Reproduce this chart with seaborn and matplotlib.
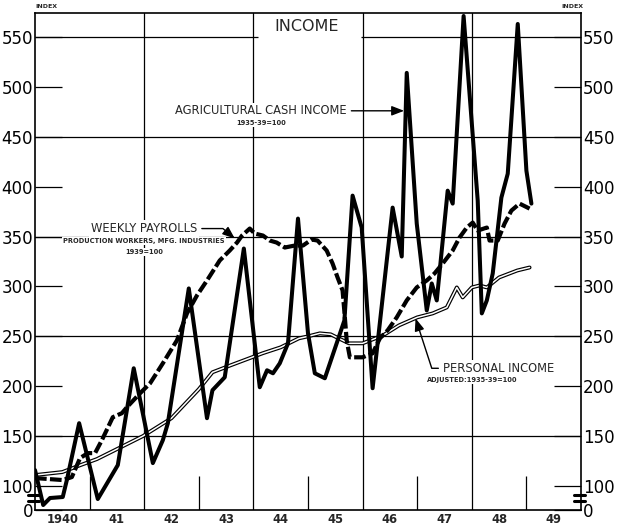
import numpy as np
import pandas as pd
import matplotlib
matplotlib.use("Agg")
import matplotlib.pyplot as plt
import seaborn as sns
from matplotlib import font_manager as fm

# ---------------- data (months since Jan 1940, index values) ----------------
ag_months = [0, 1.8, 3.3, 6.1, 7.0, 9.7, 13.8, 18.2, 21.7, 25.9, 28.1, 29.2, 33.8, 37.8, 39.0,
             41.7, 45.9, 49.4, 51.0, 52.3, 53.8, 55.6, 57.8, 60.0, 61.5, 63.7, 66.3, 68.0, 69.8,
             71.8, 74.2, 78.6, 80.6, 81.7, 83.9, 86.1, 87.2, 88.3, 90.7, 91.8, 94.2, 97.3, 98.2,
             99.3, 100.6, 102.5, 103.9, 106.1, 108.0, 109.1]
ag_values = [116, 81, 88, 89, 106, 163, 87, 121, 218, 123, 146, 163, 298, 168, 196,
             209, 338, 199, 216, 213, 223, 243, 368, 253, 213, 208, 243, 266, 391,
             359, 198, 379, 330, 514, 363, 276, 303, 286, 396, 383, 571, 386, 273,
             286, 313, 389, 413, 563, 416, 383]

payroll_months = [0, 6.1, 8.1, 9.9, 11.6, 13.2, 14.7, 17.1, 19.1, 20.2, 23.1, 25.3, 28.1, 31.2,
                  33.4, 35.6, 37.8, 40.6, 42.8, 44.4, 45.5, 47.2, 48.3, 50.1, 51.6, 53.1, 54.9,
                  57.1, 58.9, 60.8, 62.1, 64.1, 65.4, 66.5, 67.6, 68.1, 68.5, 69.2, 72.0, 74.2,
                  75.8, 77.5, 79.5, 81.7, 83.9, 86.1, 87.8, 89.6, 91.8, 93.3, 94.9, 96.2, 97.3,
                  99.3, 99.9, 101.7, 103.2, 104.7, 106.5, 108.7]
payroll_values = [108, 106, 109, 128, 133, 133, 146, 169, 173, 179, 193, 203, 223, 246,
                  273, 291, 306, 326, 336, 344, 351, 358, 353, 351, 346, 344, 339,
                  341, 341, 347, 346, 336, 323, 309, 296, 269, 246, 229, 229, 233,
                  248, 256, 269, 286, 299, 306, 313, 323, 336, 349, 359, 364, 356,
                  359, 346, 346, 363, 376, 383, 378]

personal_months = [0, 6, 10, 13.6, 18, 23.7, 30, 36, 39, 43, 46.5, 50, 54, 58, 60, 62.6, 65,
                   66.3, 69, 72, 76.5, 80, 84, 87.4, 90.5, 92.7, 94, 96, 97.7, 99.3, 102, 106,
                   108.7]
personal_values = [111, 114, 121, 127, 137, 150, 168, 197, 214, 221, 227, 233, 239, 248, 250,
                   253, 252, 249, 243, 243, 251, 261, 269, 273, 279, 299, 289, 299, 301, 299,
                   309, 316, 319]

year_labels = ["1940", "41", "42", "43", "44", "45", "46", "47", "48", "49"]
y_tick_values = [100, 150, 200, 250, 300, 350, 400, 450, 500, 550]

ag = pd.DataFrame({"year": 1940 + np.array(ag_months) / 12, "value": ag_values})
payroll = pd.DataFrame({"year": 1940 + np.array(payroll_months) / 12, "value": payroll_values})
personal = pd.DataFrame({"year": 1940 + np.array(personal_months) / 12, "value": personal_values})

# ---------------- fonts ----------------
def has_font(name):
    try:
        fm.findfont(fm.FontProperties(family=name), fallback_to_default=False)
        return True
    except Exception:
        return False

sns.set_style("white")
NARROW_OK = has_font("Liberation Sans Narrow")
NARROW = "Liberation Sans Narrow" if NARROW_OK else "DejaVu Sans"
LBL = 10 if NARROW_OK else 8.3
plt.rcParams["font.family"] = ["DejaVu Sans"]

# ---------------- figure ----------------
fig = plt.figure(figsize=(6.26, 5.28), dpi=100)
ax = fig.add_axes([35 / 626, 1 - 510 / 528, (581 - 35) / 626, (510 - 13) / 528])
Y0 = 76  # value drawn at the broken "0" baseline
ax.set_xlim(1940, 1950)
ax.set_ylim(Y0, 574)

grid_kw = dict(color="black", lw=0.9, zorder=0.5)
# horizontal full rules
for v in [150, 250, 350, 450]:
    ax.axhline(v, **grid_kw)
ax.hlines(550, 1940, 1944.08, **grid_kw)
ax.hlines(550, 1945.97, 1950, **grid_kw)
# vertical full rules (even years) and short ticks (odd years)
for yr in [1942, 1944, 1946, 1948]:
    ax.axvline(yr, **grid_kw)
ax.vlines([1941, 1943, 1945, 1947, 1949], Y0, 110, **grid_kw)

# ---------------- series ----------------
sns.lineplot(data=personal, x="year", y="value", ax=ax, color="black", linewidth=2.8,
             estimator=None, sort=False, zorder=3)
sns.lineplot(data=personal, x="year", y="value", ax=ax, color="white", linewidth=1.1,
             estimator=None, sort=False, zorder=3.1)
sns.lineplot(data=payroll, x="year", y="value", ax=ax, color="black", linewidth=3.0,
             estimator=None, sort=False, zorder=3.2, linestyle=(0, (2.8, 0.8)))
sns.lineplot(data=ag, x="year", y="value", ax=ax, color="black", linewidth=2.9,
             estimator=None, sort=False, zorder=3.3)
ax.set_xlabel("")
ax.set_ylabel("")

# ---------------- axes / ticks ----------------
for s in ax.spines.values():
    s.set_visible(True)
    s.set_color("black")
    s.set_linewidth(1.2)
    s.set_zorder(4)

ax.set_yticks([Y0] + y_tick_values)
ax.set_yticklabels(["0"] + [str(v) for v in y_tick_values])
ax.tick_params(axis="y", which="major", direction="in", length=19.5, width=0.9,
               left=True, right=True, labelleft=True, labelright=True,
               labelsize=12, pad=1.5, colors="black")
ax.set_xticks([1940.5 + i for i in range(10)])
ax.set_xticklabels(year_labels)
ax.tick_params(axis="x", which="major", length=0, labelsize=8.3, pad=2.5)
for lab in ax.get_xticklabels():
    lab.set_fontweight("bold")
ax.grid(False)

# break marks on the value axes
for xa in [0.0, 1.0]:
    for yv in [85, 91]:
        ax.plot([xa - 0.012, xa + 0.007], [yv, yv], transform=ax.get_yaxis_transform(),
                color="black", lw=2.2, clip_on=False, zorder=5)

# ---------------- texts ----------------
wb = dict(boxstyle="square,pad=0.15", fc="white", ec="none")
ax.text(1944.98, 560, "INCOME", ha="center", va="center", family=NARROW,
        fontsize=14 if NARROW_OK else 11.5, zorder=2)
fig.text(35 / 626, 1 - 6 / 528, "INDEX", ha="left", va="center", fontsize=4.5, fontweight="bold")
fig.text(583 / 626, 1 - 6 / 528, "INDEX", ha="right", va="center", fontsize=4.5, fontweight="bold")

arrow = dict(arrowstyle="-|>,head_length=0.9,head_width=0.35", color="black",
             lw=1.0, shrinkA=2, shrinkB=0)

# Agricultural cash income
ax.annotate("AGRICULTURAL CASH INCOME", xy=(1946.76, 476), xytext=(1944.14, 476),
            ha="center", va="center", family=NARROW, fontsize=LBL, zorder=2, bbox=wb,
            arrowprops=arrow)
ax.text(1944.14, 464, "1935-39=100", ha="center", va="center", fontsize=4.8,
        fontweight="bold", zorder=2, bbox=wb)

# Weekly payrolls
ax.annotate("WEEKLY PAYROLLS", xy=(1943.66, 348), xytext=(1942.0, 358),
            ha="center", va="center", family=NARROW, fontsize=LBL, zorder=2, bbox=wb,
            arrowprops=dict(arrow, connectionstyle="angle,angleA=0,angleB=-40,rad=0"))
ax.text(1942.0, 346, "PRODUCTION WORKERS, MFG. INDUSTRIES", ha="center", va="center",
        fontsize=4.8, fontweight="bold", zorder=2, bbox=wb)
ax.text(1942.0, 335, "1939=100", ha="center", va="center", fontsize=4.8,
        fontweight="bold", zorder=2, bbox=wb)

# Personal income
ax.annotate("PERSONAL INCOME", xy=(1946.97, 268), xytext=(1947.47, 218),
            ha="left", va="center", family=NARROW, fontsize=LBL, zorder=2, bbox=wb,
            arrowprops=dict(arrow, connectionstyle="angle,angleA=0,angleB=108,rad=0"))
ax.text(1948.0, 206, "ADJUSTED:1935-39=100", ha="center", va="center", fontsize=4.8,
        fontweight="bold", zorder=2, bbox=wb)

fig.savefig("out.png", dpi=100)
